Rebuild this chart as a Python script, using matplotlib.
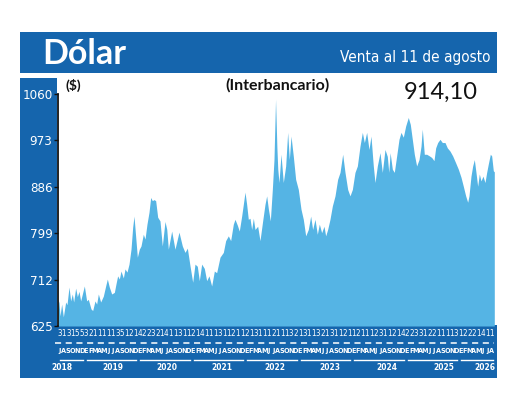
import matplotlib.pyplot as plt
import matplotlib.transforms as mtransforms
from matplotlib.patches import Rectangle
from matplotlib.lines import Line2D

# Datos: meses desde julio 2018 y valor del dólar
meses = [
    0.0, 0.22, 0.45, 0.82, 1.2, 1.72, 2.02, 2.47, 2.84, 3.21,
    3.51, 3.96, 4.34, 4.71, 5.08, 5.91, 6.43, 6.8, 7.4, 7.78,
    8.3, 8.67, 9.05, 9.57, 10.17, 10.69, 11.07, 11.51, 12.04, 12.64,
    13.01, 13.38, 13.76, 14.13, 14.66, 15.03, 15.48, 15.93, 16.38, 16.75,
    17.05, 17.42, 17.8, 18.24, 18.62, 19.14, 19.52, 19.96, 20.41, 20.79,
    21.16, 21.53, 21.91, 22.36, 22.88, 23.4, 24.0, 24.4, 24.75, 25.5,
    26.24, 27.14, 27.89, 28.49, 29.01, 29.61, 30.21, 30.73, 31.25, 31.7,
    32.23, 32.82, 33.35, 33.87, 34.47, 35.07, 35.59, 36.34, 37.09, 37.61,
    38.21, 38.73, 39.33, 39.7, 40.23, 40.67, 41.2, 41.57, 41.95, 42.32,
    42.69, 43.07, 43.44, 43.82, 44.19, 44.79, 45.31, 45.91, 46.43, 46.81,
    47.18, 47.63, 48.08, 48.45, 48.8, 49.1, 49.3, 49.57, 50.02, 50.54,
    51.07, 51.52, 51.89, 52.27, 52.79, 53.31, 53.91, 54.51, 55.03, 55.56,
    56.15, 56.68, 57.12, 57.65, 58.17, 58.62, 59.14, 59.67, 60.04, 60.49,
    61.01, 61.54, 62.14, 62.73, 63.26, 63.86, 64.38, 64.98, 65.5, 66.03,
    66.62, 67.15, 67.74, 68.27, 68.72, 69.24, 69.76, 70.21, 70.73, 71.11,
    71.63, 72.23, 72.75, 73.35, 73.87, 74.2, 74.5, 75.0, 75.44, 75.97,
    76.49, 76.94, 77.46, 77.99, 78.58, 79.03, 79.48, 79.93, 80.45, 80.98,
    81.43, 81.72, 82.17, 82.7, 83.3, 83.82, 84.34, 84.72, 85.17, 85.69,
    86.21, 86.81, 87.33, 87.93, 88.53, 89.2, 89.8, 90.4, 90.92, 91.45,
    91.9, 92.19, 92.64, 93.02, 93.39, 93.76, 94.14, 94.51, 94.89, 95.33,
    95.78, 96.16, 96.53, 96.98, 97.28, 97.65, 97.87,
]
valores = [
    675, 669, 644, 666, 642, 670, 665, 698, 672, 685,
    670, 696, 680, 690, 672, 700, 672, 675, 657, 654,
    672, 666, 685, 670, 681, 700, 713, 698, 685, 688,
    704, 719, 713, 728, 715, 732, 726, 741, 769, 810,
    831, 793, 754, 769, 775, 797, 788, 816, 838, 866,
    860, 862, 860, 829, 822, 775, 821, 806, 769, 803,
    769, 801, 775, 763, 771, 738, 707, 741, 737, 710,
    741, 733, 710, 719, 700, 728, 725, 754, 763, 785,
    794, 785, 816, 825, 814, 803, 831, 853, 876, 853,
    825, 827, 806, 827, 806, 812, 785, 822, 853, 869,
    845, 822, 881, 937, 1050, 960, 919, 894, 947, 894,
    925, 988, 937, 981, 943, 900, 881, 844, 825, 794,
    806, 831, 806, 825, 797, 816, 800, 812, 794, 806,
    825, 850, 869, 900, 913, 947, 913, 881, 869, 881,
    913, 925, 962, 988, 969, 988, 956, 981, 925, 894,
    925, 950, 913, 956, 943, 913, 950, 919, 913, 944,
    975, 988, 979, 1000, 1016, 1003, 975, 947, 925, 937,
    962, 994, 947, 947, 944, 941, 935, 959, 969, 975,
    969, 969, 959, 953, 944, 931, 919, 904, 887, 869,
    857, 869, 906, 925, 937, 913, 887, 910, 897, 906,
    894, 913, 929, 947, 944, 916, 914.1,
]
assert len(meses) == len(valores)

ticks_y = [625, 712, 799, 886, 973, 1060]
digitos = ("3131553211111351214223214113112141113112112131112"
           "1113213113213112112111231121422331221111312221411")
iniciales = "EFMAMJJASOND"
anios = [2018, 2019, 2020, 2021, 2022, 2023, 2024, 2025, 2026]
ultimo = "914,10"

AZUL = "#1565ad"
CELESTE = "#55b4e4"
ANGOSTA = dict(family="DejaVu Sans", stretch="condensed")

W, H = 520, 404
fig = plt.figure(figsize=(5.2, 4.04), dpi=100)


def fx(x):
    return x / W


def fy(y):
    return 1 - y / H


def caja(x0, y0, x1, y1):
    fig.add_artist(Rectangle((fx(x0), fy(y1)), fx(x1) - fx(x0), fy(y0) - fy(y1),
                             transform=fig.transFigure, color=AZUL, lw=0, zorder=-1))


caja(20, 32, 497, 73)
caja(20, 78, 57, 378)
caja(20, 325, 497, 378)

ax = fig.add_axes([fx(58), fy(326), fx(494.3) - fx(58), fy(94) - fy(326)])
ax.fill_between(meses, valores, 625, color=CELESTE, lw=0)
ax.set_xlim(0, 97.87)
ax.set_ylim(625, 1060)
ax.patch.set_alpha(0)
for s in ["top", "right", "bottom"]:
    ax.spines[s].set_visible(False)
ax.spines["left"].set_color("#111111")
ax.spines["left"].set_linewidth(1.3)
ax.set_xticks([])
ax.set_yticks(ticks_y)
ax.tick_params(axis="y", length=3, width=1, color="#111111", pad=1,
               labelcolor="white", labelsize=9.5)
for lab in ax.get_yticklabels():
    lab.set_family("DejaVu Sans")
    lab.set_stretch("condensed")

# Textos de cabecera
fig.text(fx(42), fy(64), "Dólar", color="white", fontsize=24.5, fontweight="bold",
         family=["Lato", "DejaVu Sans"], ha="left", va="baseline")
fig.text(fx(490), fy(62), "Venta al 11 de agosto", color="white", fontsize=11,
         ha="right", va="baseline", **ANGOSTA)
fig.text(fx(277), fy(90), "(Interbancario)", color="#111111", fontsize=11.5,
         fontweight="bold", family=["Lato", "DejaVu Sans"], ha="center", va="baseline")
fig.text(fx(66), fy(90), "($)", color="#111111", fontsize=10,
         fontweight="bold", family=["Lato", "DejaVu Sans"], ha="left", va="baseline")
fig.text(fx(441), fy(99), ultimo, color="#111111", fontsize=17,
         family=["Lato", "DejaVu Sans"], ha="center", va="baseline")

# Eje inferior: cifras, meses, años
trans = mtransforms.blended_transform_factory(ax.transData, fig.transFigure)
for i, d in enumerate(digitos):
    ax.text(i + 0.3, fy(334), d, transform=trans, ha="center", va="center",
            color="white", fontsize=5.8, **ANGOSTA)
    ax.text(i + 0.3, fy(351), iniciales[(6 + i) % 12], transform=trans, ha="center",
            va="center", color="white", fontsize=5.2, fontweight="bold", **ANGOSTA)

fig.add_artist(Line2D([fx(55), fx(494)], [fy(343), fy(343)], transform=fig.transFigure,
                      color="white", lw=1.1, ls=(0, (4, 3))))

pos_anio = [0.9, 12.3, 24.4, 36.8, 48.7, 61.0, 73.8, 86.6, 95.8]
for k, a in enumerate(anios):
    ini = max(0, 6 + 12 * (k - 1))
    fin = min(97.87, 6 + 12 * k)
    ax.plot([ini + 0.4, fin - 0.4], [fy(360), fy(360)], transform=trans,
            color="white", lw=1, clip_on=False)
    ax.text(pos_anio[k], fy(368), str(a), transform=trans, ha="center", va="center",
            color="white", fontsize=6, fontweight="bold", **ANGOSTA)

fig.savefig("out.png", dpi=100)
